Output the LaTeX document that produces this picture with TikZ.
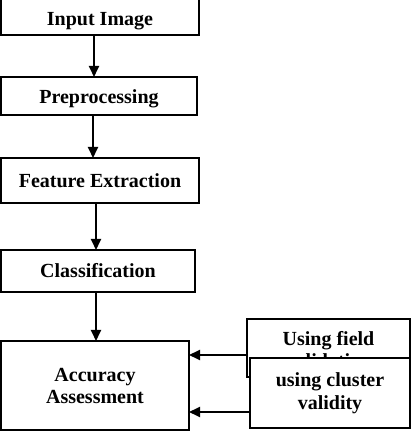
\documentclass[tikz,border=0pt]{standalone}
\usepackage{fontspec}
\setmainfont{Liberation Serif}
\usetikzlibrary{arrows.meta}
\begin{document}
\begin{tikzpicture}[x=1pt,y=1pt,
  box/.style={draw=black,line width=1.8pt,fill=white,inner sep=0pt,outer sep=0pt,
    font=\fontsize{20}{22}\selectfont\bfseries},
  oneline/.style={text height=18.6pt,text depth=4.6pt},
  multi/.style={align=center},
  arr/.style={line width=1.8pt,-{Triangle[length=11pt,width=10pt]}}]
\useasboundingbox (0,0) rectangle (419,441);
\node[box,oneline,text height=23.4pt,minimum width=198,minimum height=37] (B1) at (100,424.5) {Input Image};
\node[box,oneline,text height=20pt,minimum width=196,minimum height=38] (B2) at (99,345) {Preprocessing};
\node[box,oneline,minimum width=198,minimum height=45] (B3) at (100,260.5) {Feature Extraction};
\node[box,oneline,minimum width=194,minimum height=42] (B4) at (98,170) {Classification};
\node[box,multi,minimum width=188,minimum height=89] (B5) at (95,55.5) {Accuracy\\Assessment};
\node[box,multi,text height=40pt,text depth=0pt,minimum width=163,minimum height=58] (R1) at (328.5,93) {Using field\\validation};
\node[box,multi,font=\fontsize{20}{23}\selectfont\bfseries,minimum width=160,minimum height=70] (R2) at (330,48) {using cluster\\validity};
\draw[arr] ([xshift=-6pt]B1.south) -- ([xshift=-6pt]B1.south |- B2.north);
\draw[arr] ([xshift=-6pt]B2.south) -- ([xshift=-6pt]B2.south |- B3.north);
\draw[arr] ([xshift=-4pt]B3.south) -- ([xshift=-4pt]B3.south |- B4.north);
\draw[arr] ([xshift=-2pt]B4.south) -- ([xshift=-2pt]B4.south |- B5.north);
\draw[arr] ([yshift=-7pt]R1.west) -- ([yshift=-7pt]R1.west -| B5.east);
\draw[arr] ([yshift=-19pt]R2.west) -- ([yshift=-19pt]R2.west -| B5.east);
\end{tikzpicture}
\end{document}
